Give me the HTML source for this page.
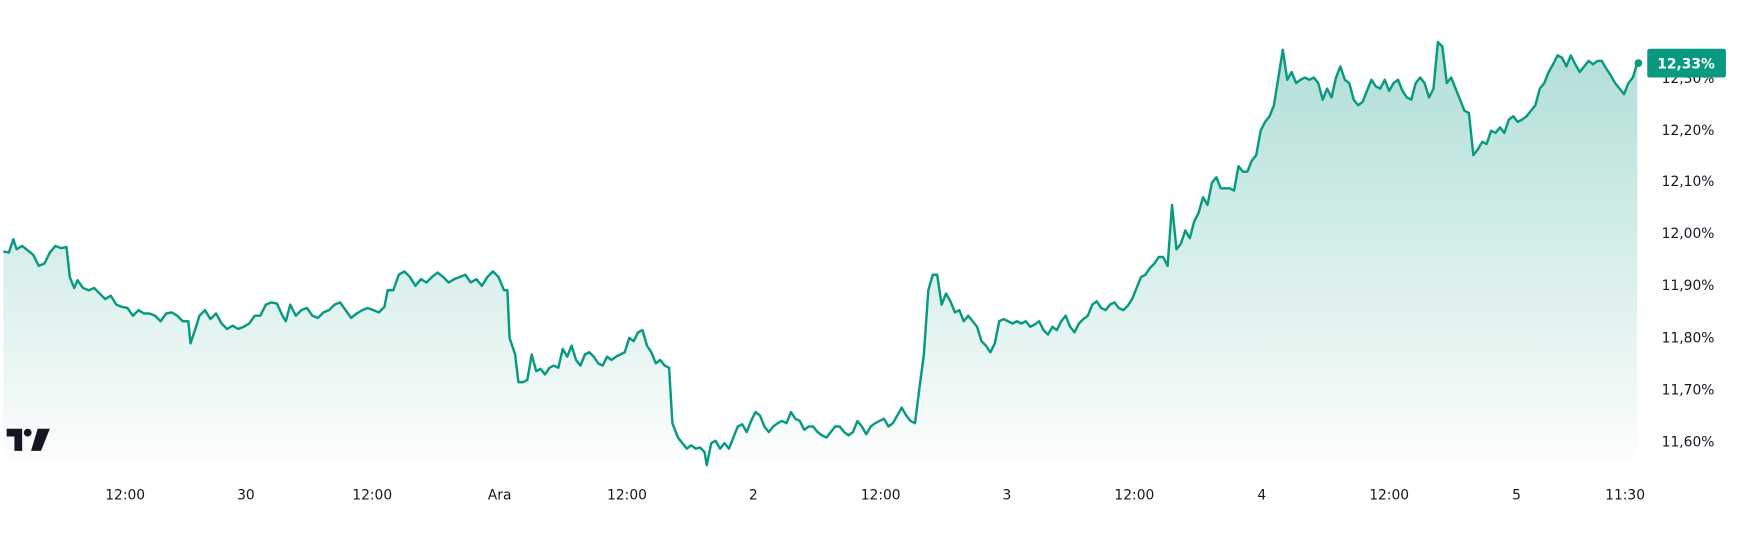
<!DOCTYPE html>
<html><head><meta charset="utf-8"><style>
html,body{margin:0;padding:0;background:#fff;}
svg{display:block;}
text{font-family:"DejaVu Sans","Liberation Sans",sans-serif;}
</style></head><body>
<svg width="1737" height="555" viewBox="0 0 1568 501" preserveAspectRatio="none" xmlns="http://www.w3.org/2000/svg">
<defs>
<linearGradient id="g" x1="0" y1="0" x2="0" y2="1">
<stop offset="0" stop-color="#089981" stop-opacity="0.32"/>
<stop offset="1" stop-color="#089981" stop-opacity="0.01"/>
</linearGradient>
</defs>
<g id="ln">
<path fill="url(#g)" stroke="none" d="M3,227 L8,228 L12,216 L15,225 L20,222 L25,226 L30,230 L35,240 L40,238 L45,228 L50,222 L55,224 L60,223 L63,250 L67,260 L70,253 L75,260 L80,262 L85,260 L90,265 L95,270 L100,267 L105,275 L110,277 L115,278 L120,285 L125,280 L130,283 L135,283 L140,285 L145,290 L150,283 L155,282 L160,285 L165,290 L170,290 L172,310 L177,295 L180,285 L185,280 L190,288 L195,283 L200,292 L205,297 L210,294 L215,297 L220,295 L225,292 L230,285 L235,285 L240,275 L245,273 L250,274 L255,285 L258,290 L262,275 L267,285 L272,280 L277,278 L282,285 L287,287 L292,282 L297,280 L302,275 L307,273 L312,280 L317,287 L322,283 L327,280 L332,278 L337,280 L342,282 L347,277 L350,262 L355,262 L360,248 L365,245 L370,250 L375,258 L380,252 L385,255 L390,250 L395,246 L400,250 L405,255 L410,252 L415,250 L420,248 L425,255 L430,252 L435,258 L440,250 L445,245 L450,250 L455,262 L458,262 L460,305 L465,320 L468,345 L472,345 L476,343 L480,320 L484,335 L488,333 L492,338 L496,332 L500,330 L504,332 L508,315 L512,322 L516,312 L520,325 L524,330 L528,320 L532,318 L536,322 L540,328 L544,330 L548,322 L552,325 L556,322 L560,320 L564,318 L568,305 L572,308 L576,300 L580,298 L584,312 L588,318 L592,328 L596,325 L600,330 L604,332 L607,382 L612,395 L616,400 L620,405 L624,402 L628,405 L632,404 L636,408 L638,420 L642,400 L646,398 L650,405 L654,400 L658,405 L662,395 L666,385 L670,383 L674,390 L678,380 L682,372 L686,375 L690,385 L694,390 L698,385 L702,382 L706,380 L710,382 L714,372 L718,378 L722,380 L726,388 L730,385 L734,385 L738,390 L742,393 L746,395 L750,390 L754,385 L758,385 L762,390 L766,393 L770,390 L774,380 L778,385 L782,392 L786,385 L790,382 L794,380 L798,378 L802,385 L806,382 L810,375 L814,368 L818,375 L822,380 L826,382 L830,350 L834,320 L838,262 L842,248 L846,248 L850,275 L854,265 L858,272 L862,282 L866,280 L870,290 L874,285 L878,290 L882,295 L886,308 L890,312 L894,318 L898,310 L902,290 L906,288 L910,290 L914,292 L918,290 L922,292 L926,290 L930,295 L934,293 L938,290 L942,298 L946,302 L950,295 L954,298 L958,290 L962,285 L966,295 L970,300 L974,292 L978,288 L982,285 L986,275 L990,272 L994,278 L998,280 L1002,275 L1006,273 L1010,278 L1014,280 L1018,276 L1022,270 L1026,260 L1030,250 L1034,248 L1038,242 L1042,238 L1046,232 L1050,232 L1054,240 L1058,185 L1062,225 L1066,220 L1070,208 L1074,215 L1078,200 L1082,192 L1086,178 L1090,185 L1094,165 L1098,160 L1102,170 L1106,170 L1110,170 L1114,172 L1118,150 L1122,155 L1126,155 L1130,145 L1134,140 L1138,118 L1142,110 L1146,105 L1150,95 L1154,70 L1158,45 L1162,72 L1166,65 L1170,75 L1174,72 L1178,70 L1182,72 L1186,70 L1190,75 L1194,90 L1198,80 L1202,88 L1206,70 L1210,60 L1214,72 L1218,75 L1222,90 L1226,95 L1230,92 L1234,82 L1238,72 L1242,78 L1246,80 L1250,72 L1254,82 L1258,75 L1262,72 L1266,82 L1270,88 L1274,90 L1278,75 L1282,70 L1286,75 L1290,88 L1294,80 L1298,38 L1302,42 L1306,75 L1310,70 L1314,80 L1318,90 L1322,100 L1326,102 L1330,140 L1334,135 L1338,128 L1342,130 L1346,118 L1350,120 L1354,115 L1358,120 L1362,108 L1366,105 L1370,110 L1374,108 L1378,105 L1382,100 L1386,95 L1390,80 L1394,75 L1398,65 L1402,58 L1406,50 L1410,52 L1414,60 L1418,50 L1422,58 L1426,65 L1430,60 L1434,55 L1438,58 L1442,55 L1446,55 L1450,62 L1454,68 L1458,75 L1462,80 L1466,85 L1470,75 L1474,70 L1478,57 L1478,415 L3,415 Z"/>
</g>
<polyline id="pl" fill="none" stroke="#089981" stroke-width="2.2" stroke-linejoin="round" points="3,227 8,228 12,216 15,225 20,222 25,226 30,230 35,240 40,238 45,228 50,222 55,224 60,223 63,250 67,260 70,253 75,260 80,262 85,260 90,265 95,270 100,267 105,275 110,277 115,278 120,285 125,280 130,283 135,283 140,285 145,290 150,283 155,282 160,285 165,290 170,290 172,310 177,295 180,285 185,280 190,288 195,283 200,292 205,297 210,294 215,297 220,295 225,292 230,285 235,285 240,275 245,273 250,274 255,285 258,290 262,275 267,285 272,280 277,278 282,285 287,287 292,282 297,280 302,275 307,273 312,280 317,287 322,283 327,280 332,278 337,280 342,282 347,277 350,262 355,262 360,248 365,245 370,250 375,258 380,252 385,255 390,250 395,246 400,250 405,255 410,252 415,250 420,248 425,255 430,252 435,258 440,250 445,245 450,250 455,262 458,262 460,305 465,320 468,345 472,345 476,343 480,320 484,335 488,333 492,338 496,332 500,330 504,332 508,315 512,322 516,312 520,325 524,330 528,320 532,318 536,322 540,328 544,330 548,322 552,325 556,322 560,320 564,318 568,305 572,308 576,300 580,298 584,312 588,318 592,328 596,325 600,330 604,332 607,382 612,395 616,400 620,405 624,402 628,405 632,404 636,408 638,420 642,400 646,398 650,405 654,400 658,405 662,395 666,385 670,383 674,390 678,380 682,372 686,375 690,385 694,390 698,385 702,382 706,380 710,382 714,372 718,378 722,380 726,388 730,385 734,385 738,390 742,393 746,395 750,390 754,385 758,385 762,390 766,393 770,390 774,380 778,385 782,392 786,385 790,382 794,380 798,378 802,385 806,382 810,375 814,368 818,375 822,380 826,382 830,350 834,320 838,262 842,248 846,248 850,275 854,265 858,272 862,282 866,280 870,290 874,285 878,290 882,295 886,308 890,312 894,318 898,310 902,290 906,288 910,290 914,292 918,290 922,292 926,290 930,295 934,293 938,290 942,298 946,302 950,295 954,298 958,290 962,285 966,295 970,300 974,292 978,288 982,285 986,275 990,272 994,278 998,280 1002,275 1006,273 1010,278 1014,280 1018,276 1022,270 1026,260 1030,250 1034,248 1038,242 1042,238 1046,232 1050,232 1054,240 1058,185 1062,225 1066,220 1070,208 1074,215 1078,200 1082,192 1086,178 1090,185 1094,165 1098,160 1102,170 1106,170 1110,170 1114,172 1118,150 1122,155 1126,155 1130,145 1134,140 1138,118 1142,110 1146,105 1150,95 1154,70 1158,45 1162,72 1166,65 1170,75 1174,72 1178,70 1182,72 1186,70 1190,75 1194,90 1198,80 1202,88 1206,70 1210,60 1214,72 1218,75 1222,90 1226,95 1230,92 1234,82 1238,72 1242,78 1246,80 1250,72 1254,82 1258,75 1262,72 1266,82 1270,88 1274,90 1278,75 1282,70 1286,75 1290,88 1294,80 1298,38 1302,42 1306,75 1310,70 1314,80 1318,90 1322,100 1326,102 1330,140 1334,135 1338,128 1342,130 1346,118 1350,120 1354,115 1358,120 1362,108 1366,105 1370,110 1374,108 1378,105 1382,100 1386,95 1390,80 1394,75 1398,65 1402,58 1406,50 1410,52 1414,60 1418,50 1422,58 1426,65 1430,60 1434,55 1438,58 1442,55 1446,55 1450,62 1454,68 1458,75 1462,80 1466,85 1470,75 1474,70 1478,57"/>
<circle cx="1479" cy="57" r="3.5" fill="#089981"/>
<g font-size="12.5" fill="#131722">
<text x="1500" y="75">12,30%</text>
<text x="1500" y="122">12,20%</text>
<text x="1500" y="168">12,10%</text>
<text x="1500" y="215">12,00%</text>
<text x="1500" y="262">11,90%</text>
<text x="1500" y="309">11,80%</text>
<text x="1500" y="356">11,70%</text>
<text x="1500" y="403">11,60%</text>
</g>
<rect x="1487" y="44" width="71" height="26" rx="2" fill="#089981"/>
<text x="1522" y="62" font-size="12.5" font-weight="bold" fill="#fff" text-anchor="middle">12,33%</text>
<g font-size="12.5" fill="#131722" text-anchor="middle">
<text x="113" y="451">12:00</text>
<text x="222" y="451">30</text>
<text x="336" y="451">12:00</text>
<text x="451" y="451">Ara</text>
<text x="566" y="451">12:00</text>
<text x="680" y="451">2</text>
<text x="795" y="451">12:00</text>
<text x="909" y="451">3</text>
<text x="1024" y="451">12:00</text>
<text x="1139" y="451">4</text>
<text x="1254" y="451">12:00</text>
<text x="1369" y="451">5</text>
<text x="1467" y="451">11:30</text>
</g>
<g fill="#131722">
<path d="M6,387 H20 V407 H13 V394 H6 Z"/>
<circle cx="25" cy="390.5" r="3.5"/>
<path d="M34,387 H45 L37,407 H28 Z"/>
</g>
</svg>
</body></html>
